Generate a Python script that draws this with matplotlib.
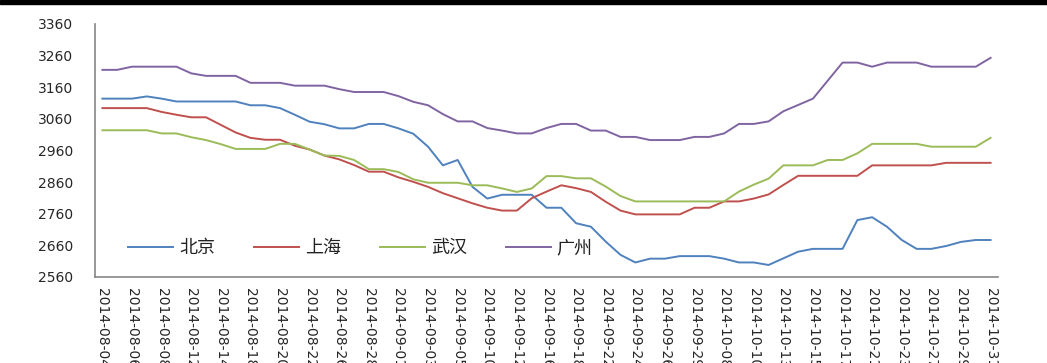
import matplotlib
matplotlib.use("Agg")
import matplotlib.pyplot as plt
from matplotlib.patches import Rectangle

dates = ["2014-08-04","2014-08-05","2014-08-06","2014-08-07","2014-08-08",
         "2014-08-11","2014-08-12","2014-08-13","2014-08-14","2014-08-15",
         "2014-08-18","2014-08-19","2014-08-20","2014-08-21","2014-08-22",
         "2014-08-25","2014-08-26","2014-08-27","2014-08-28","2014-08-29",
         "2014-09-01","2014-09-02","2014-09-03","2014-09-04","2014-09-05",
         "2014-09-09","2014-09-10","2014-09-11","2014-09-12","2014-09-15",
         "2014-09-16","2014-09-17","2014-09-18","2014-09-19","2014-09-22",
         "2014-09-23","2014-09-24","2014-09-25","2014-09-26","2014-09-28",
         "2014-09-29","2014-09-30","2014-10-08","2014-10-09","2014-10-10",
         "2014-10-11","2014-10-13","2014-10-14","2014-10-15","2014-10-16",
         "2014-10-17","2014-10-20","2014-10-21","2014-10-22","2014-10-23",
         "2014-10-24","2014-10-27","2014-10-28","2014-10-29","2014-10-30",
         "2014-10-31"]

beijing = [3124,3124,3124,3131,3124,3115,3115,3115,3115,3115,
           3103,3103,3094,3073,3051,3043,3030,3030,3044,3044,
           3030,3013,2972,2913,2930,2845,2808,2820,2820,2820,
           2779,2779,2730,2719,2672,2630,2606,2618,2618,2626,
           2626,2626,2618,2606,2606,2598,2619,2640,2649,2649,
           2649,2740,2749,2719,2677,2649,2649,2658,2671,2677,
           2677]
shanghai = [3094,3094,3094,3094,3082,3073,3065,3065,3041,3017,
            3000,2994,2994,2975,2963,2944,2932,2914,2893,2893,
            2875,2861,2845,2825,2809,2793,2779,2770,2770,2809,
            2830,2850,2841,2829,2798,2770,2758,2758,2758,2758,
            2779,2779,2799,2799,2808,2821,2851,2880,2880,2880,
            2880,2880,2913,2913,2913,2913,2913,2921,2921,2921,
            2921]
wuhan = [3024,3024,3024,3024,3014,3014,3002,2993,2980,2965,
         2965,2965,2981,2981,2963,2944,2943,2930,2901,2901,
         2892,2869,2858,2858,2858,2850,2850,2840,2829,2840,
         2879,2879,2872,2872,2846,2816,2799,2799,2799,2799,
         2799,2799,2799,2830,2852,2871,2913,2913,2913,2930,
         2930,2951,2981,2981,2981,2981,2972,2972,2972,2972,
         3000]
guangzhou = [3215,3215,3225,3225,3225,3225,3204,3196,3196,3196,
             3174,3174,3174,3165,3165,3165,3154,3145,3145,3145,
             3132,3114,3103,3075,3052,3052,3031,3023,3014,3014,
             3031,3044,3044,3023,3023,3003,3003,2993,2993,2993,
             3003,3003,3014,3044,3044,3052,3084,3104,3124,3181,
             3238,3238,3225,3238,3238,3238,3225,3225,3225,3225,
             3253]

series_names = ["北京", "上海", "武汉", "广州"]
series_values = [beijing, shanghai, wuhan, guangzhou]
series_colors = ["#4F81BD", "#C0504D", "#9BBB59", "#8064A2"]

yticks = list(range(2560, 3361, 100))

fig = plt.figure(figsize=(10.47, 3.63), dpi=100)
ax = fig.add_axes([95/1047, 1-277/363, (998-95)/1047, 253/363])

x = list(range(len(dates)))
for name, vals, col in zip(series_names, series_values, series_colors):
    ax.plot(x, vals, color=col, lw=1.4, label=name)

ax.set_xlim(-0.5, len(dates)-0.5)
ax.set_ylim(2560, 3360)
ax.set_yticks(yticks)
ax.set_yticklabels([str(v) for v in yticks], fontsize=10, color="#262626")
ax.set_xticks(x[::2])
ax.set_xticklabels(dates[::2], rotation=-90, fontsize=10, color="#262626",
                   va="top", ha="center")
ax.tick_params(axis="y", length=0, pad=16)
ax.tick_params(axis="x", length=0, pad=8)
for s in ["top", "right"]:
    ax.spines[s].set_visible(False)
for s in ["left", "bottom"]:
    ax.spines[s].set_color("#868686")
    ax.spines[s].set_linewidth(1.2)

leg = ax.legend(loc="lower left", bbox_to_anchor=((128-95)/903, (277-257)/253),
                ncol=4, frameon=False, handlelength=2.49, columnspacing=2.16,
                handletextpad=0.33, borderpad=0, borderaxespad=0,
                prop={"family": ["Noto Sans CJK SC", "DejaVu Sans"], "size": 13})
for t in leg.get_texts():
    t.set_color("#222222")

fig.patches.append(Rectangle((0, 1-4/363), 1, 4/363, transform=fig.transFigure,
                             color="black", zorder=10))

fig.savefig("out.png", dpi=100)
